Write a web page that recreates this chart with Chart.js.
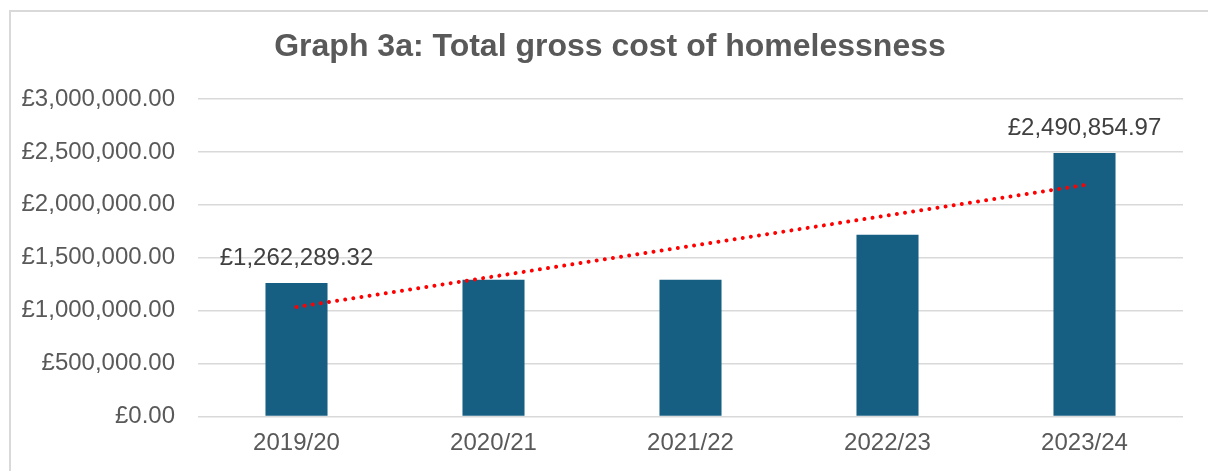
<!DOCTYPE html>
<html>
<head>
<meta charset="utf-8">
<script src="https://cdn.jsdelivr.net/npm/chart.js@4/dist/chart.umd.min.js"></script>
<style>
  html, body { margin: 0; padding: 0; background: #ffffff; }
  #wrap { width: 1208px; height: 471px; }
</style>
</head>
<body>
<div id="wrap"><canvas id="c" width="1208" height="471"></canvas></div>
<script>
// Financial years and total gross cost per year (£)
const years = ['2019/20', '2020/21', '2021/22', '2022/23', '2023/24'];
const grossCost = [1262289.32, 1292000, 1291000, 1718000, 2490854.97];
// Only the first and last years carry a value label
const labelledYears = ['2019/20', '2023/24'];
const titleText = 'Graph 3a: Total gross cost of homelessness';

// Least-squares linear trend across the years
function linearTrend(values) {
  const n = values.length;
  const mx = (n - 1) / 2;
  const my = values.reduce((a, b) => a + b, 0) / n;
  let num = 0, den = 0;
  values.forEach((v, i) => { num += (i - mx) * (v - my); den += (i - mx) * (i - mx); });
  const slope = num / den;
  return values.map((_, i) => my + slope * (i - mx));
}
const trend = linearTrend(grossCost);

const gbp = v => '£' + v.toLocaleString('en-GB', { minimumFractionDigits: 2, maximumFractionDigits: 2 });

const FONT = '"Liberation Sans", Arial, sans-serif';

// Frame, title and value labels
const decorations = {
  id: 'decorations',
  beforeDraw(chart) {
    const ctx = chart.ctx;
    ctx.save();
    ctx.strokeStyle = '#d9d9d9';
    ctx.lineWidth = 2;
    ctx.beginPath();
    ctx.moveTo(10, chart.height);
    ctx.lineTo(10, 11);
    ctx.lineTo(chart.width, 11);
    ctx.stroke();
    ctx.restore();
  },
  afterDatasetsDraw(chart) {
    const ctx = chart.ctx;
    ctx.save();
    ctx.fillStyle = '#595959';
    ctx.font = 'bold 32px ' + FONT;
    ctx.textAlign = 'center';
    ctx.textBaseline = 'middle';
    ctx.fillText(titleText, 610, 47);

    const meta = chart.getDatasetMeta(1);
    ctx.fillStyle = '#404040';
    ctx.font = '24px ' + FONT;
    ctx.textBaseline = 'alphabetic';
    meta.data.forEach((bar, i) => {
      if (!labelledYears.includes(years[i])) return;
      ctx.fillText(gbp(grossCost[i]), bar.x, bar.y - 18);
    });
    ctx.restore();
  }
};

new Chart(document.getElementById('c'), {
  data: {
    labels: years,
    datasets: [
      {
        type: 'line',
        label: 'Linear trend',
        data: trend,
        borderColor: '#ff0000',
        borderWidth: 4,
        borderDash: [0.01, 8.2],
        borderCapStyle: 'round',
        pointRadius: 0,
        fill: false,
        tension: 0,
        order: 0
      },
      {
        type: 'bar',
        label: 'Total gross cost',
        data: grossCost,
        backgroundColor: '#175f82',
        barPercentage: 0.315,
        categoryPercentage: 1,
        order: 1
      }
    ]
  },
  options: {
    responsive: false,
    animation: false,
    layout: { padding: { top: 99, right: 25, bottom: 0, left: 0 } },
    plugins: {
      legend: { display: false },
      title: { display: false },
      tooltip: { enabled: false }
    },
    scales: {
      x: {
        grid: { display: false, drawTicks: false },
        border: { display: false },
        ticks: { color: '#595959', font: { family: FONT, size: 24 }, padding: 12 },
        afterFit(s) { s.height = 54.5; }
      },
      y: {
        min: 0,
        max: 3000000,
        grid: { color: '#d9d9d9', lineWidth: 1.5, drawTicks: false },
        border: { display: false },
        ticks: {
          stepSize: 500000,
          color: '#595959',
          font: { family: FONT, size: 24 },
          padding: 23,
          callback: v => gbp(v)
        },
        afterFit(s) { s.width = 198; }
      }
    }
  },
  plugins: [decorations]
});
</script>
</body>
</html>
